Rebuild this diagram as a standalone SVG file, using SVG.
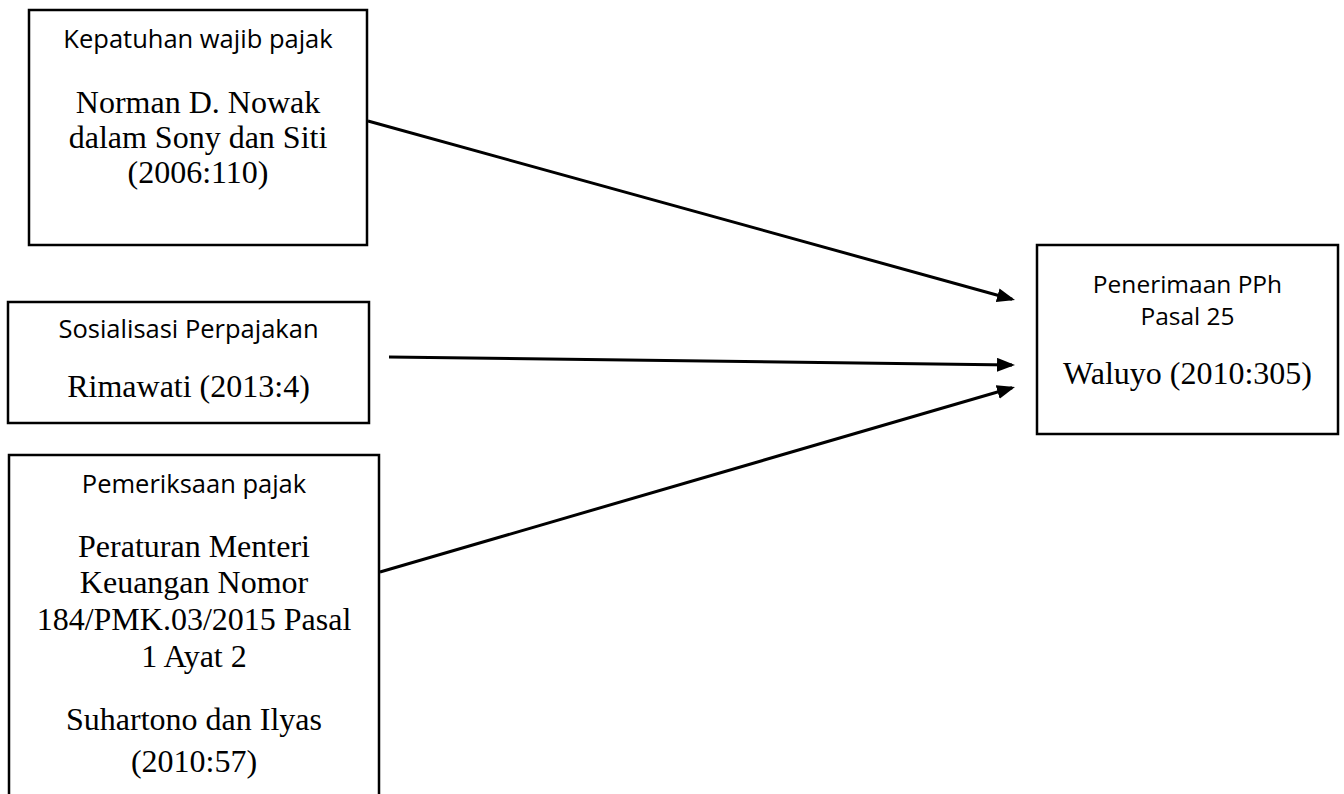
<svg xmlns="http://www.w3.org/2000/svg" width="1344" height="794" viewBox="0 0 1344 794">
<style>
.box{fill:#fff;stroke:#000;stroke-width:2.5}
.sans{font-family:"Open Sans","Noto Sans","Liberation Sans",sans-serif;font-size:25.5px;fill:#000;text-anchor:middle}
.sans-r{font-size:24.5px}
.serif{font-family:"Liberation Serif","Times New Roman",serif;font-size:32px;fill:#000;text-anchor:middle}
.conn{stroke:#000;stroke-width:3;fill:none;marker-end:url(#ah)}
</style>
<defs>
<marker id="ah" markerUnits="userSpaceOnUse" markerWidth="19" markerHeight="15" refX="15" refY="7" orient="auto">
<path d="M0,0 L18,7 L0,14 z" fill="#000"/>
</marker>
</defs>
<rect width="1344" height="794" fill="#fff"/>
<g id="node-kepatuhan">
<rect class="box" x="29" y="10" width="338" height="235"/>
<text class="sans" x="198" y="48">Kepatuhan wajib pajak</text>
<text class="serif" x="198" y="113">Norman D. Nowak</text>
<text class="serif" x="198" y="148">dalam Sony dan Siti</text>
<text class="serif" x="198" y="183">(2006:110)</text>
</g>
<g id="node-sosialisasi">
<rect class="box" x="8" y="302" width="361" height="121"/>
<text class="sans" x="188.5" y="338">Sosialisasi Perpajakan</text>
<text class="serif" x="188.5" y="397">Rimawati (2013:4)</text>
</g>
<g id="node-pemeriksaan">
<path class="box" d="M9,800 L9,455 L379,455 L379,800"/>
<text class="sans" x="194" y="493">Pemeriksaan pajak</text>
<text class="serif" x="194" y="557">Peraturan Menteri</text>
<text class="serif" x="194" y="593">Keuangan Nomor</text>
<text class="serif" x="194" y="630">184/PMK.03/2015 Pasal</text>
<text class="serif" x="194" y="667">1 Ayat 2</text>
<text class="serif" x="194" y="730">Suhartono dan Ilyas</text>
<text class="serif" x="194" y="772">(2010:57)</text>
</g>
<g id="node-penerimaan">
<rect class="box" x="1037" y="245" width="301" height="189"/>
<text class="sans sans-r" x="1187.5" y="293">Penerimaan PPh</text>
<text class="sans sans-r" x="1187.5" y="325">Pasal 25</text>
<text class="serif" x="1187.5" y="384">Waluyo (2010:305)</text>
</g>
<g id="connectors">
<line class="conn" x1="368" y1="121" x2="1012.1" y2="299.2"/>
<line class="conn" x1="389" y1="357" x2="1012" y2="365"/>
<line class="conn" x1="380" y1="572" x2="1012.1" y2="387.8"/>
</g>
</svg>
